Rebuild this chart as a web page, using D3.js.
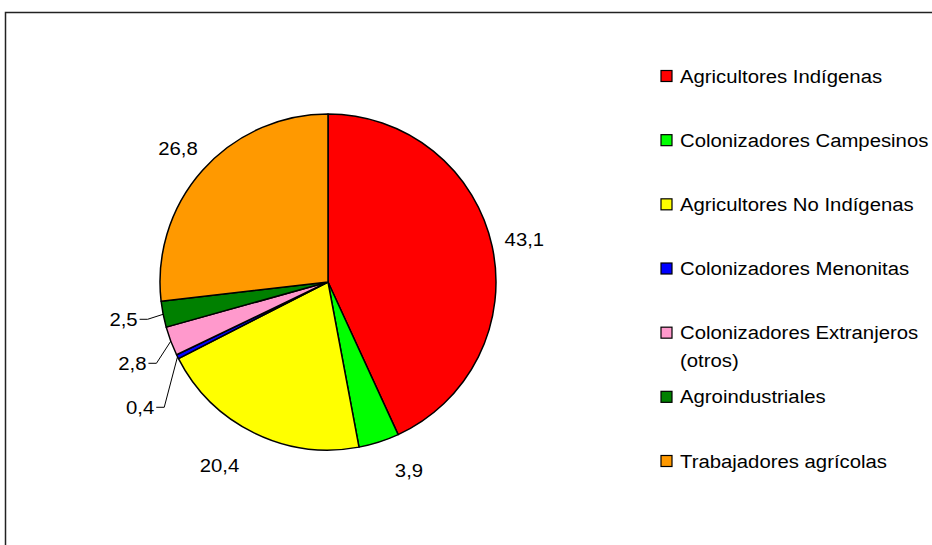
<!DOCTYPE html>
<html><head><meta charset="utf-8">
<script src="https://cdn.jsdelivr.net/npm/d3@7"></script>
<style>html,body{margin:0;padding:0;background:#fff;overflow:hidden}</style>
</head><body>
<svg id="chart" width="932" height="545"></svg>
<script>
const categories = ["Agricultores Indígenas","Colonizadores Campesinos","Agricultores No Indígenas","Colonizadores Menonitas","Colonizadores Extranjeros (otros)","Agroindustriales","Trabajadores agrícolas"];
const values = [43.1, 3.9, 20.4, 0.4, 2.8, 2.5, 26.8];
const valueLabels = ["43,1","3,9","20,4","0,4","2,8","2,5","26,8"];
const colors = ["#FF0000","#00FF00","#FFFF00","#0000FF","#FF99CC","#008000","#FF9900"];
const legendLines = [["Agricultores Indígenas"],["Colonizadores Campesinos"],["Agricultores No Indígenas"],["Colonizadores Menonitas"],["Colonizadores Extranjeros","(otros)"],["Agroindustriales"],["Trabajadores agrícolas"]];

const svg = d3.select("#chart");
const font = "'Liberation Sans', Arial, sans-serif";
const sx = 1.07;

// frame
svg.append("rect").attr("x",5.5).attr("y",12.5).attr("width",960).attr("height",560)
  .attr("fill","none").attr("stroke","#222").attr("stroke-width",1.5);

const cx = 328, cy = 282, r = 168;
const pie = d3.pie().sort(null).value(d => d);
const arcs = pie(values);
const arc = d3.arc().innerRadius(0).outerRadius(r);
const g = svg.append("g").attr("transform",`translate(${cx},${cy})`);
g.selectAll("path").data(arcs).join("path")
  .attr("d", arc).attr("fill",(d,i)=>colors[i])
  .attr("stroke","#000").attr("stroke-width",1.5).attr("stroke-linejoin","round");

function addText(parent, x, y, txt, anchor){
  return parent.append("text")
    .attr("transform",`translate(${x},${y}) scale(${sx},1)`)
    .attr("dy","0.35em").attr("text-anchor",anchor)
    .attr("font-family",font).attr("font-size",19).text(txt);
}

// labels
const mid = d => (d.startAngle + d.endAngle)/2;
const labels = arcs.map((d,i) => {
  const a = mid(d);
  const small = values[i] < 3;
  const R = small ? r + 26 : r + 33;
  let x = Math.sin(a)*R, y = -Math.cos(a)*R;
  // spread labels near the bottom/top outward horizontally
  if (!small && Math.abs(Math.cos(a)) > 0.85) { x += 20*Math.sign(Math.sin(a)); y -= 3*Math.sign(Math.sin(a)); }
  return {i, a, small, x, y, ax: Math.sin(a)*r, ay: -Math.cos(a)*r};
});
// resolve overlap for left-side labels (top to bottom)
const left = labels.filter(l => Math.sin(l.a) < 0).sort((p,q)=>p.y-q.y);
for (let k=1;k<left.length;k++){
  if (left[k].y - left[k-1].y < 44) left[k].y = left[k-1].y + 44;
}
labels.forEach(l => {
  if (l.small) {
    const ex = l.x + 10;
    g.append("polyline")
      .attr("points", `${l.ax},${l.ay} ${ex},${l.y} ${l.x+2},${l.y}`)
      .attr("fill","none").attr("stroke","#000").attr("stroke-width",1);
    addText(g, l.x, l.y, valueLabels[l.i], "end");
  } else {
    addText(g, l.x, l.y, valueLabels[l.i], "middle");
  }
});

// legend
const legY = d3.scalePoint().domain(d3.range(categories.length)).range([76, 461]);
const leg = svg.append("g");
categories.forEach((c,i) => {
  const y = legY(i);
  leg.append("rect").attr("x",661).attr("y",y-5.5).attr("width",11).attr("height",11)
    .attr("fill",colors[i]).attr("stroke","#000").attr("stroke-width",1.2);
  legendLines[i].forEach((t,j) => addText(leg, 680, y + j*28, t, "start"));
});
</script>
</body></html>
